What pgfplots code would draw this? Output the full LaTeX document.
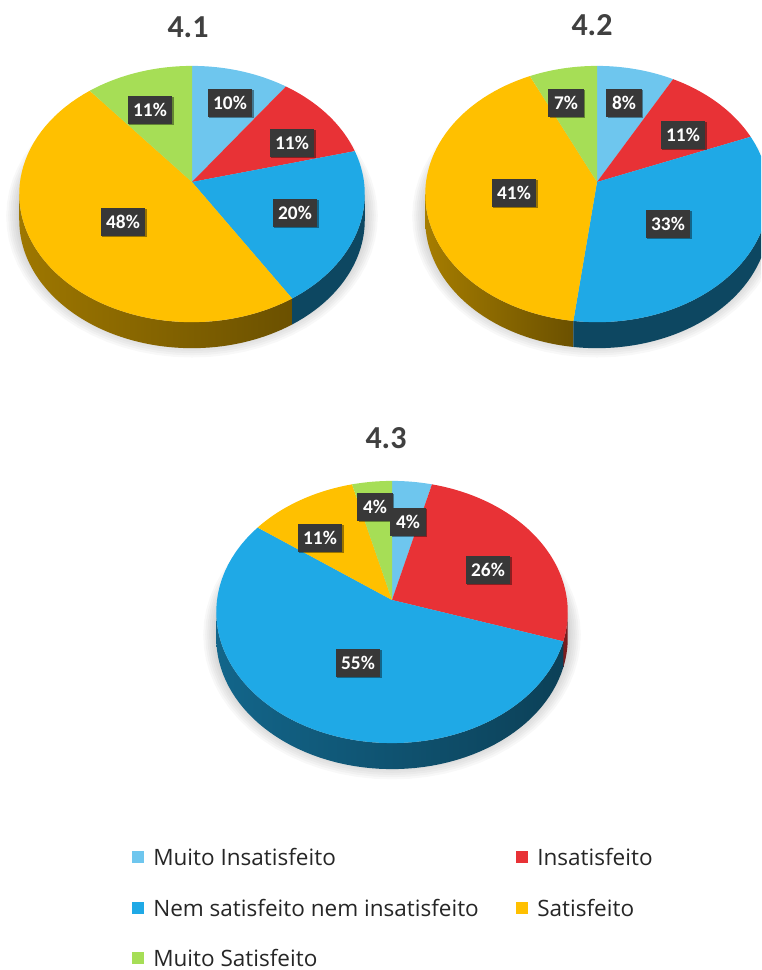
\documentclass[border=0pt]{standalone}
\usepackage{fontspec}
\setmainfont{Carlito}
\newfontfamily\legendfont{Open Sans}
\usepackage{pgfplots}
\pgfplotsset{compat=1.18}
\usetikzlibrary{shadows}

\definecolor{cLight}{HTML}{6EC6EE}
\definecolor{cRed}{HTML}{E83236}
\definecolor{cBlue}{HTML}{1FA9E6}
\definecolor{cYellow}{HTML}{FFC000}
\definecolor{cGreen}{HTML}{A6DE56}
\definecolor{cDarkRed}{HTML}{7A1C1E}

% Perspective circle: #1 cx, #2 cy, #3 R, #4 Ry, #5 k, angle in degrees as #6
\newcommand{\rimx}[6]{#1+(#3)*sin(#6)/(1+#5*cos(#6))}
\newcommand{\rimy}[6]{#2-(#4)*cos(#6)/(1+#5*cos(#6))}

% Top-face slice between two cumulative percentages
\newcommand{\slice}[8]{%
  \addplot[draw=none,fill=#6,domain=0:62,samples=63,variable=\t]
    ({\t<60.5 ? \rimx{#1}{#2}{#3}{#4}{#5}{(#7+(#8-#7)*\t/60)*3.6} : #1},
     {\t<60.5 ? \rimy{#1}{#2}{#3}{#4}{#5}{(#7+(#8-#7)*\t/60)*3.6} : #2});
}
% Side wall: lower rim forwards, upper rim backwards
\newcommand{\wall}[8]{%
  \addplot[draw=none,#8,domain=0:121,samples=122,variable=\t]
    ({\rimx{#1}{#2}{#3}{#4}{#5}{(#6+(#7-#6)*(\t<60.5 ? \t/60 : (121-\t)/60))*3.6}},
     {(\t<60.5 ? 1 : 0)*\wdepth+\rimy{#1}{#2}{#3}{#4}{#5}{(#6+(#7-#6)*(\t<60.5 ? \t/60 : (121-\t)/60))*3.6}});
}
% Soft ground shadow: one translucent enlarged disc
\newcommand{\shadowdisc}[6]{%
  \addplot[draw=none,fill=black,fill opacity=0.028,domain=0:360,samples=73,variable=\t]
    ({\rimx{#1}{#2}{#3+#6}{#4+#6}{#5}{\t}},{\rimy{#1}{#2}{#3+#6}{#4+#6}{#5}{\t}});
}
\newcommand{\shadowstack}[5]{%
  \shadowdisc{#1}{#2}{#3}{#4}{#5}{13}
  \shadowdisc{#1}{#2}{#3}{#4}{#5}{11}
  \shadowdisc{#1}{#2}{#3}{#4}{#5}{9}
  \shadowdisc{#1}{#2}{#3}{#4}{#5}{7}
  \shadowdisc{#1}{#2}{#3}{#4}{#5}{5}
  \shadowdisc{#1}{#2}{#3}{#4}{#5}{3}
  \shadowdisc{#1}{#2}{#3}{#4}{#5}{1}
}
\tikzset{
  pct/.style={fill=black!78,text=white,inner xsep=4.2pt,inner ysep=0pt,minimum height=21pt,
    font=\fontsize{14.5}{16}\selectfont\bfseries,
    drop shadow={shadow xshift=1pt,shadow yshift=-1pt,opacity=0.4,fill=black}},
  ttl/.style={text=black!75,font=\fontsize{24}{28}\selectfont\bfseries},
  lgd/.style={anchor=west,inner sep=0pt,text=black!85,font=\legendfont\fontsize{16.9}{19}\selectfont},
}
\def\wdepth{26}

\begin{document}
\begin{tikzpicture}
\path[use as bounding box] (0,0) rectangle (570.75pt,727.5pt);
\begin{axis}[
  at={(0,0)},anchor=south west,
  scale only axis,width=570.75pt,height=727.5pt,
  xmin=0,xmax=761,ymin=0,ymax=970,y dir=reverse,
  hide axis,clip=true,
]
  % ---- 4.1 : 10 11 20 48 11 ----
  \shadowstack{192}{203}{172}{127}{0.094}
  \wall{192}{182}{172}{127}{0.094}{41}{73.5}{left color=cYellow!62!black,right color=cYellow!42!black}
  \wall{192}{182}{172}{127}{0.094}{26.5}{41}{fill=cBlue!42!black}
  \slice{192}{182}{172}{127}{0.094}{cLight}{0}{10}
  \slice{192}{182}{172}{127}{0.094}{cRed}{10}{21}
  \slice{192}{182}{172}{127}{0.094}{cBlue}{21}{41}
  \slice{192}{182}{172}{127}{0.094}{cYellow}{41}{89}
  \slice{192}{182}{172}{127}{0.094}{cGreen}{89}{100}

  % ---- 4.2 : 8 11 33 41 7 ----
  \shadowstack{597}{203}{171}{127}{0.094}
  \wall{597}{182}{171}{127}{0.094}{52}{73.5}{left color=cYellow!65!black,right color=cYellow!42!black}
  \wall{597}{182}{171}{127}{0.094}{26.5}{52}{fill=cBlue!42!black}
  \slice{597}{182}{171}{127}{0.094}{cLight}{0}{8}
  \slice{597}{182}{171}{127}{0.094}{cRed}{8}{19}
  \slice{597}{182}{171}{127}{0.094}{cBlue}{19}{52}
  \slice{597}{182}{171}{127}{0.094}{cYellow}{52}{93}
  \slice{597}{182}{171}{127}{0.094}{cGreen}{93}{100}

  % ---- 4.3 : 4 26 55 11 4 ----
  \shadowstack{392}{622}{175}{130}{0.0916}
  \wall{392}{600}{175}{130}{0.0916}{30}{73.5}{left color=cBlue!60!black,right color=cBlue!38!black}
  \wall{392}{600}{175}{130}{0.0916}{26.5}{30}{fill=cDarkRed}
  \slice{392}{600}{175}{130}{0.0916}{cLight}{0}{4}
  \slice{392}{600}{175}{130}{0.0916}{cRed}{4}{30}
  \slice{392}{600}{175}{130}{0.0916}{cBlue}{30}{85}
  \slice{392}{600}{175}{130}{0.0916}{cYellow}{85}{96}
  \slice{392}{600}{175}{130}{0.0916}{cGreen}{96}{100}

  % legend swatches
  \addplot[only marks,mark=square*,mark size=4pt,mark options={draw=cLight,fill=cLight}] coordinates {(138,857)};
  \addplot[only marks,mark=square*,mark size=4pt,mark options={draw=cRed,fill=cRed}] coordinates {(522,857)};
  \addplot[only marks,mark=square*,mark size=4pt,mark options={draw=cBlue,fill=cBlue}] coordinates {(138,908)};
  \addplot[only marks,mark=square*,mark size=4pt,mark options={draw=cYellow,fill=cYellow}] coordinates {(522,908)};
  \addplot[only marks,mark=square*,mark size=4pt,mark options={draw=cGreen,fill=cGreen}] coordinates {(138,958)};

  % value labels
  \node[pct] at (axis cs:230,103) {10\%};
  \node[pct] at (axis cs:292,143) {11\%};
  \node[pct] at (axis cs:295,213) {20\%};
  \node[pct] at (axis cs:123,222) {48\%};
  \node[pct] at (axis cs:150,110) {11\%};

  \node[pct] at (axis cs:624,103) {8\%};
  \node[pct] at (axis cs:683,135) {11\%};
  \node[pct] at (axis cs:668,224) {33\%};
  \node[pct] at (axis cs:514,193) {41\%};
  \node[pct] at (axis cs:566,103) {7\%};

  \node[pct] at (axis cs:375,507) {4\%};
  \node[pct] at (axis cs:408,522) {4\%};
  \node[pct] at (axis cs:488,570) {26\%};
  \node[pct] at (axis cs:358,663) {55\%};
  \node[pct] at (axis cs:320,538) {11\%};

  % titles
  \node[ttl] at (axis cs:188,27) {4.1};
  \node[ttl] at (axis cs:592,25) {4.2};
  \node[ttl] at (axis cs:386,438) {4.3};

  % legend entries
  \node[lgd] at (axis cs:153,857) {Muito Insatisfeito};
  \node[lgd] at (axis cs:537,857) {Insatisfeito};
  \node[lgd] at (axis cs:153,908) {Nem satisfeito nem insatisfeito};
  \node[lgd] at (axis cs:537,908) {Satisfeito};
  \node[lgd] at (axis cs:153,958) {Muito Satisfeito};
\end{axis}
\end{tikzpicture}
\end{document}
